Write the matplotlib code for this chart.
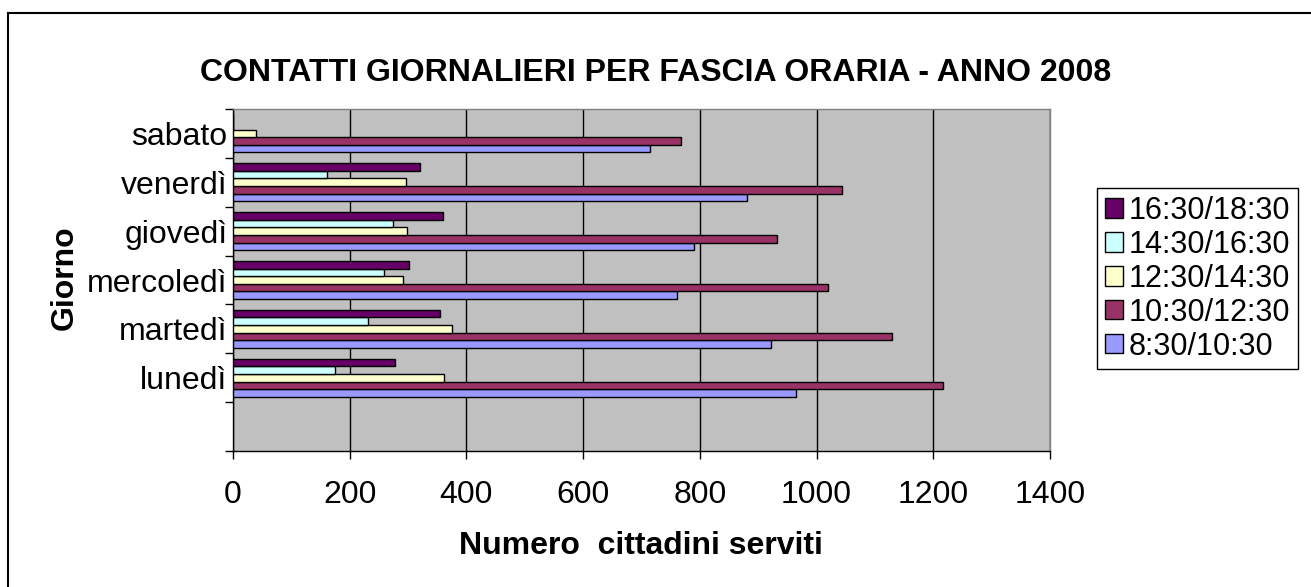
import matplotlib
matplotlib.use("Agg")
import matplotlib.pyplot as plt
from matplotlib.lines import Line2D
import numpy as np

plt.rcParams['font.family'] = ['Liberation Sans', 'DejaVu Sans']

giorni = ['', 'lunedì', 'martedì', 'mercoledì', 'giovedì', 'venerdì', 'sabato']
fasce = ['8:30/10:30', '10:30/12:30', '12:30/14:30', '14:30/16:30', '16:30/18:30']
colori = ['#9999FF', '#993366', '#FFFFCC', '#CCFFFF', '#660066']

# values per day (lunedì ... sabato)
v_0830 = [964, 922, 760, 790, 881, 714]
v_1030 = [1216, 1129, 1019, 932, 1043, 768]
v_1230 = [362, 375, 292, 299, 296, 40]
v_1430 = [175, 232, 258, 274, 161, 0]
v_1630 = [278, 354, 302, 360, 321, 0]
serie = [v_0830, v_1030, v_1230, v_1430, v_1630]

W, H = 1311, 587
fs = 23
fig = plt.figure(figsize=(W / 100, H / 100), dpi=100)
ax = fig.add_axes([233 / W, 1 - 451 / H, 817 / W, 342 / H])
ax.set_facecolor('#C0C0C0')

y = np.arange(1, len(giorni))
h = 0.156
bars = []
for k, (vals, lab, c) in enumerate(zip(serie, fasce, colori)):
    b = ax.barh(y + (k - 2) * h, vals, height=h, color=c, edgecolor='black',
                linewidth=1, label=lab, zorder=3)
    bars.append(b)

ax.set_xlim(0, 1400)
ax.set_ylim(-0.5, len(giorni) - 0.5)
ax.set_xticks(np.arange(0, 1401, 200))
ax.grid(axis='x', color='black', linewidth=1, zorder=1)
ax.set_axisbelow(True)

ax.set_yticks(np.arange(len(giorni)))
ax.set_yticklabels(giorni)
ax.set_yticks(np.arange(-0.5, len(giorni)), minor=True)
ax.tick_params(axis='y', which='major', length=0, pad=4, labelsize=fs)
ax.tick_params(axis='y', which='minor', length=5.5, width=1, direction='out')
ax.tick_params(axis='x', length=6, width=1, direction='out', pad=15, labelsize=fs)

for s in ['top', 'right']:
    ax.spines[s].set_color('#808080')
    ax.spines[s].set_linewidth(1)
for s in ['left', 'bottom']:
    ax.spines[s].set_color('black')
    ax.spines[s].set_linewidth(1)

fig.text(0.5, 1 - 73 / H, 'CONTATTI GIORNALIERI PER FASCIA ORARIA - ANNO 2008',
         ha='center', va='center', fontsize=fs, fontweight='bold')
fig.text(641 / W, 1 - 546 / H, 'Numero  cittadini serviti',
         ha='center', va='center', fontsize=fs, fontweight='bold')
fig.text(65 / W, 1 - 278 / H, 'Giorno', ha='center', va='center',
         rotation=90, fontsize=fs, fontweight='bold')

handles = bars[::-1]
leg = fig.legend(handles, fasce[::-1], loc='upper left',
                 bbox_to_anchor=(1097 / W, 1 - 188 / H), bbox_transform=fig.transFigure,
                 borderaxespad=0, fancybox=False, edgecolor='black', fontsize=22,
                 labelspacing=0.13, handlelength=0.6, handleheight=0.6,
                 handletextpad=0.2, borderpad=0.25, framealpha=1)
leg.get_frame().set_linewidth(1)

# outer chart border (left and top visible)
fig.add_artist(Line2D([8 / W, 8 / W], [0, 1 - 12.7 / H], transform=fig.transFigure,
                      color='black', linewidth=1.5))
fig.add_artist(Line2D([8 / W, 1], [1 - 12.7 / H, 1 - 12.7 / H], transform=fig.transFigure,
                      color='black', linewidth=1.5))

fig.savefig('out.png', dpi=100)
